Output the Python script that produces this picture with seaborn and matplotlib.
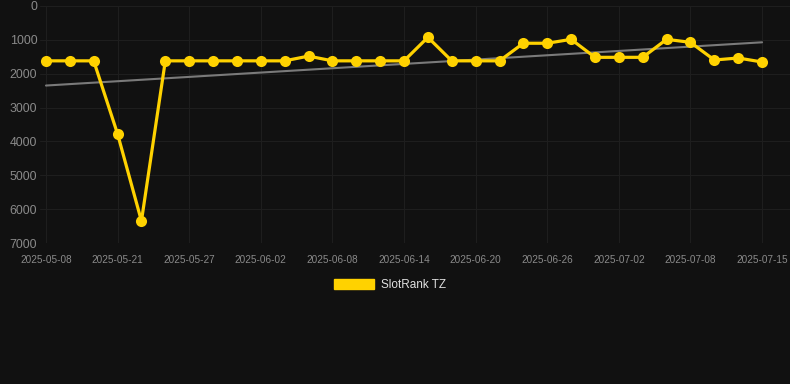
import numpy as np
import matplotlib
matplotlib.use("Agg")
import matplotlib.pyplot as plt
from matplotlib.patches import Patch
import seaborn as sns

# daily rank snapshots (lower = better), x axis is categorical
dates = ["2025-05-08", "2025-05-13", "2025-05-17", "2025-05-21", "2025-05-23",
         "2025-05-25", "2025-05-27", "2025-05-29", "2025-05-31", "2025-06-02",
         "2025-06-04", "2025-06-06", "2025-06-08", "2025-06-10", "2025-06-12",
         "2025-06-14", "2025-06-16", "2025-06-18", "2025-06-20", "2025-06-22",
         "2025-06-24", "2025-06-26", "2025-06-28", "2025-06-30", "2025-07-02",
         "2025-07-04", "2025-07-06", "2025-07-08", "2025-07-10", "2025-07-13",
         "2025-07-15"]
ranks = [1620, 1620, 1620, 3780, 6350, 1620, 1620, 1620, 1620, 1620,
         1620, 1480, 1620, 1620, 1620, 1620, 925, 1620, 1620, 1620,
         1100, 1100, 985, 1516, 1516, 1516, 985, 1073, 1595, 1536,
         1654]
y_ticks = [0, 1000, 2000, 3000, 4000, 5000, 6000, 7000]
series_name = "SlotRank TZ"

bg = "#111111"
gold = "#FFD200"

sns.set_style("dark")
plt.rcParams["font.family"] = ["Liberation Sans", "DejaVu Sans"]

fig = plt.figure(figsize=(7.9, 3.84), dpi=100, facecolor=bg)
ax = fig.add_axes([40 / 790, 1 - 243 / 384, 750 / 790, 237 / 384])
ax.set_facecolor(bg)

idx = np.arange(len(dates))

# trend line (linear fit over the series)
sns.regplot(x=idx, y=ranks, ax=ax, scatter=False, ci=None,
            line_kws=dict(color="#7a7a7a", lw=1.5, zorder=2))

sns.lineplot(x=idx, y=ranks, ax=ax, color=gold, lw=2.3,
             marker="o", markersize=8, markeredgewidth=0, zorder=3)

ax.set_ylim(7000, 0)
ax.set_xlim(-0.25, 31.17)
ax.set_yticks(y_ticks)
ax.set_yticklabels([str(t) for t in y_ticks])
ax.set_xticks(idx[::3])
ax.set_xticklabels([dates[i] for i in idx[::3]])

ax.grid(True, color="#1e1e1e", lw=0.8)
for s in ax.spines.values():
    s.set_visible(False)
ax.tick_params(axis="y", length=0, pad=2, labelsize=8.9, labelcolor="#8a8a8a")
ax.tick_params(axis="x", length=0, pad=8.5, labelsize=7.2, labelcolor="#8a8a8a")
ax.set_xlabel("")
ax.set_ylabel("")

handle = Patch(facecolor=gold, edgecolor=gold)
fig.legend([handle], [series_name], loc="center", bbox_to_anchor=(390 / 790, 1 - 285 / 384),
           frameon=False, fontsize=8.5, labelcolor="#e0e0e0",
           handlelength=3.4, handleheight=0.95, handletextpad=0.6)

fig.savefig("out.png", dpi=100, facecolor=bg)
plt.close()
